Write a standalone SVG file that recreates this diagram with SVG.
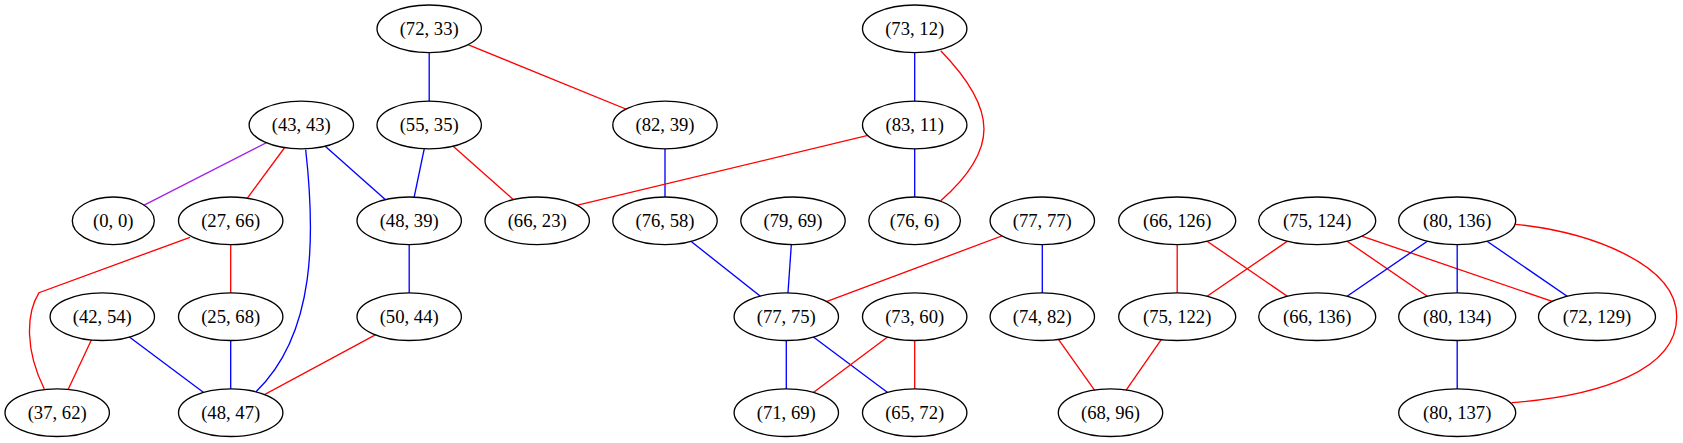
<svg xmlns="http://www.w3.org/2000/svg" width="1683" height="443" viewBox="0 0 1683 443">
<style>
  .n ellipse { fill: #ffffff; stroke: #000000; stroke-width: 1.33; }
  .e { fill: none; stroke-width: 1.33; }
  .r { stroke: #ff0000; }
  .b { stroke: #0000ff; }
  .p { stroke: #a020f0; }
</style>
<rect x="0" y="0" width="1683" height="443" fill="#ffffff"/>
<g id="connectors">
  <line class="e b" x1="429.2" y1="28.8" x2="429.2" y2="125"/>
  <line class="e r" x1="429.2" y1="28.8" x2="665" y2="125"/>
  <line class="e b" x1="914.7" y1="28.8" x2="914.7" y2="125"/>
  <path class="e r" d="M940.7,50.7 C998.4,110 998.4,150 940.7,200.7"/>
  <line class="e p" x1="301.3" y1="125" x2="113.3" y2="220.8"/>
  <line class="e r" x1="301.3" y1="125" x2="230.7" y2="220.8"/>
  <path class="e b" d="M305.7,149.7 C315,233.3 316.7,333.3 256,391.7"/>
  <line class="e b" x1="301.3" y1="125" x2="409.2" y2="220.8"/>
  <line class="e b" x1="429.2" y1="125" x2="409.2" y2="220.8"/>
  <line class="e r" x1="429.2" y1="125" x2="537.2" y2="220.8"/>
  <line class="e b" x1="665" y1="125" x2="665" y2="220.8"/>
  <line class="e r" x1="914.7" y1="124.2" x2="537" y2="214.8"/>
  <line class="e b" x1="914.7" y1="125" x2="914.7" y2="220.8"/>
  <path class="e r" d="M190,237.3 L39,292.7 C26,314 25,350 44.3,389"/>
  <line class="e r" x1="230.7" y1="220.8" x2="230.7" y2="316.7"/>
  <line class="e b" x1="409.2" y1="220.8" x2="409.2" y2="316.7"/>
  <line class="e b" x1="665" y1="220.8" x2="786.3" y2="316.7"/>
  <line class="e b" x1="793" y1="220.8" x2="786.3" y2="316.7"/>
  <line class="e r" x1="1042.3" y1="220.8" x2="786.3" y2="316.7"/>
  <line class="e b" x1="1042.3" y1="220.8" x2="1042.3" y2="316.7"/>
  <line class="e r" x1="1177.2" y1="220.8" x2="1177.2" y2="316.7"/>
  <line class="e r" x1="1177.2" y1="220.8" x2="1317.2" y2="316.7"/>
  <line class="e r" x1="1317.2" y1="220.8" x2="1177.2" y2="316.7"/>
  <line class="e r" x1="1317.2" y1="220.8" x2="1457.2" y2="316.7"/>
  <line class="e r" x1="1317.2" y1="220.8" x2="1597" y2="316.7"/>
  <line class="e b" x1="1457.2" y1="220.8" x2="1317.2" y2="316.7"/>
  <line class="e b" x1="1457.2" y1="220.8" x2="1457.2" y2="316.7"/>
  <line class="e b" x1="1457.2" y1="220.8" x2="1597" y2="316.7"/>
  <path class="e r" d="M1515.3,224.3 C1590,232 1677,264 1676.7,316.7 C1677,370 1600,396 1511.7,402.7"/>
  <line class="e r" x1="102.3" y1="316.7" x2="57.2" y2="412.7"/>
  <line class="e b" x1="102.3" y1="316.7" x2="230.7" y2="412.7"/>
  <line class="e b" x1="230.7" y1="316.7" x2="230.7" y2="412.7"/>
  <line class="e r" x1="409.2" y1="316.7" x2="230.7" y2="412.7"/>
  <line class="e b" x1="786.3" y1="316.7" x2="786.3" y2="412.7"/>
  <line class="e b" x1="786.3" y1="316.7" x2="914.7" y2="412.7"/>
  <line class="e r" x1="914.7" y1="316.7" x2="786.3" y2="412.7"/>
  <line class="e r" x1="914.7" y1="316.7" x2="914.7" y2="412.7"/>
  <line class="e r" x1="1042.3" y1="316.7" x2="1110.5" y2="412.7"/>
  <line class="e r" x1="1177.2" y1="316.7" x2="1110.5" y2="412.7"/>
  <line class="e b" x1="1457.2" y1="316.7" x2="1457.2" y2="412.7"/>
</g>
<g id="nodes" font-family="Liberation Serif, Times New Roman, serif" font-size="18.67" text-anchor="middle" fill="#000000">
<g id="n72_33" class="n"><ellipse cx="429.2" cy="28.8" rx="52.2" ry="23.8"/><text x="429.2" y="35">(72, 33)</text></g>
<g id="n73_12" class="n"><ellipse cx="914.7" cy="28.8" rx="52.2" ry="23.8"/><text x="914.7" y="35">(73, 12)</text></g>
<g id="n43_43" class="n"><ellipse cx="301.3" cy="125" rx="52.2" ry="23.8"/><text x="301.3" y="131.2">(43, 43)</text></g>
<g id="n55_35" class="n"><ellipse cx="429.2" cy="125" rx="52.2" ry="23.8"/><text x="429.2" y="131.2">(55, 35)</text></g>
<g id="n82_39" class="n"><ellipse cx="665" cy="125" rx="52.2" ry="23.8"/><text x="665" y="131.2">(82, 39)</text></g>
<g id="n83_11" class="n"><ellipse cx="914.7" cy="125" rx="52.2" ry="23.8"/><text x="914.7" y="131.2">(83, 11)</text></g>
<g id="n0_0" class="n"><ellipse cx="113.3" cy="220.8" rx="41" ry="23.8"/><text x="113.3" y="227">(0, 0)</text></g>
<g id="n27_66" class="n"><ellipse cx="230.7" cy="220.8" rx="52.2" ry="23.8"/><text x="230.7" y="227">(27, 66)</text></g>
<g id="n48_39" class="n"><ellipse cx="409.2" cy="220.8" rx="52.2" ry="23.8"/><text x="409.2" y="227">(48, 39)</text></g>
<g id="n66_23" class="n"><ellipse cx="537.2" cy="220.8" rx="52.2" ry="23.8"/><text x="537.2" y="227">(66, 23)</text></g>
<g id="n76_58" class="n"><ellipse cx="665" cy="220.8" rx="52.2" ry="23.8"/><text x="665" y="227">(76, 58)</text></g>
<g id="n79_69" class="n"><ellipse cx="793" cy="220.8" rx="52.2" ry="23.8"/><text x="793" y="227">(79, 69)</text></g>
<g id="n76_6" class="n"><ellipse cx="914.6" cy="220.8" rx="45.8" ry="23.8"/><text x="914.6" y="227">(76, 6)</text></g>
<g id="n77_77" class="n"><ellipse cx="1042.3" cy="220.8" rx="52.2" ry="23.8"/><text x="1042.3" y="227">(77, 77)</text></g>
<g id="n66_126" class="n"><ellipse cx="1177.2" cy="220.8" rx="58.5" ry="23.8"/><text x="1177.2" y="227">(66, 126)</text></g>
<g id="n75_124" class="n"><ellipse cx="1317.2" cy="220.8" rx="58.5" ry="23.8"/><text x="1317.2" y="227">(75, 124)</text></g>
<g id="n80_136" class="n"><ellipse cx="1457.2" cy="220.8" rx="58.5" ry="23.8"/><text x="1457.2" y="227">(80, 136)</text></g>
<g id="n42_54" class="n"><ellipse cx="102.3" cy="316.7" rx="52.2" ry="23.8"/><text x="102.3" y="322.9">(42, 54)</text></g>
<g id="n25_68" class="n"><ellipse cx="230.7" cy="316.7" rx="52.2" ry="23.8"/><text x="230.7" y="322.9">(25, 68)</text></g>
<g id="n50_44" class="n"><ellipse cx="409.2" cy="316.7" rx="52.2" ry="23.8"/><text x="409.2" y="322.9">(50, 44)</text></g>
<g id="n77_75" class="n"><ellipse cx="786.3" cy="316.7" rx="52.2" ry="23.8"/><text x="786.3" y="322.9">(77, 75)</text></g>
<g id="n73_60" class="n"><ellipse cx="914.7" cy="316.7" rx="52.2" ry="23.8"/><text x="914.7" y="322.9">(73, 60)</text></g>
<g id="n74_82" class="n"><ellipse cx="1042.3" cy="316.7" rx="52.2" ry="23.8"/><text x="1042.3" y="322.9">(74, 82)</text></g>
<g id="n75_122" class="n"><ellipse cx="1177.2" cy="316.7" rx="58.5" ry="23.8"/><text x="1177.2" y="322.9">(75, 122)</text></g>
<g id="n66_136" class="n"><ellipse cx="1317.2" cy="316.7" rx="58.5" ry="23.8"/><text x="1317.2" y="322.9">(66, 136)</text></g>
<g id="n80_134" class="n"><ellipse cx="1457.2" cy="316.7" rx="58.5" ry="23.8"/><text x="1457.2" y="322.9">(80, 134)</text></g>
<g id="n72_129" class="n"><ellipse cx="1597" cy="316.7" rx="58.5" ry="23.8"/><text x="1597" y="322.9">(72, 129)</text></g>
<g id="n37_62" class="n"><ellipse cx="57.2" cy="412.7" rx="52.2" ry="23.8"/><text x="57.2" y="418.9">(37, 62)</text></g>
<g id="n48_47" class="n"><ellipse cx="230.7" cy="412.7" rx="52.2" ry="23.8"/><text x="230.7" y="418.9">(48, 47)</text></g>
<g id="n71_69" class="n"><ellipse cx="786.3" cy="412.7" rx="52.2" ry="23.8"/><text x="786.3" y="418.9">(71, 69)</text></g>
<g id="n65_72" class="n"><ellipse cx="914.7" cy="412.7" rx="52.2" ry="23.8"/><text x="914.7" y="418.9">(65, 72)</text></g>
<g id="n68_96" class="n"><ellipse cx="1110.5" cy="412.7" rx="52.2" ry="23.8"/><text x="1110.5" y="418.9">(68, 96)</text></g>
<g id="n80_137" class="n"><ellipse cx="1457.2" cy="412.7" rx="58.5" ry="23.8"/><text x="1457.2" y="418.9">(80, 137)</text></g>
</g>
</svg>
